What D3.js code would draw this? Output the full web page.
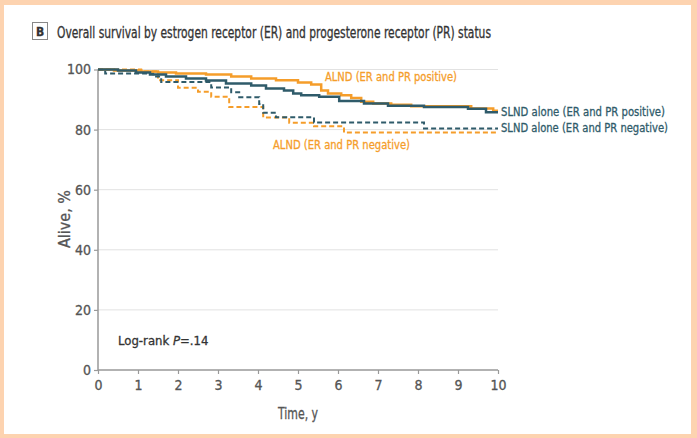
<!DOCTYPE html>
<html>
<head>
<meta charset="utf-8">
<script src="https://cdn.jsdelivr.net/npm/d3@7"></script>
<style>
  body { margin: 0; background: #fdd3b0; }
  svg text { font-family: "Liberation Sans Narrow", "DejaVu Sans Condensed", "Roboto", sans-serif; }
</style>
</head>
<body>
<div id="chart"></div>
<script>
// tick values
var timeTicks = [0, 1, 2, 3, 4, 5, 6, 7, 8, 9, 10];
var aliveTicks = [0, 20, 40, 60, 80, 100];

// KM curves (time in years, alive in %)
var alndPosTime = [0, 0.4, 1.08, 1.5, 1.95, 2.7, 3.33, 3.83, 4.45, 5.0, 5.33, 5.58, 5.75, 6.08, 6.33, 6.58, 6.88, 7.33, 7.83, 9.33, 9.88, 10];
var alndPosAlive = [100, 99.7, 99.3, 99.0, 98.7, 98.3, 97.7, 97.0, 96.4, 95.7, 95.0, 93.0, 92.0, 91.4, 90.5, 89.3, 88.7, 88.3, 87.8, 87.0, 86.3, 86.3];

var slndPosTime = [0, 0.5, 0.95, 1.3, 1.7, 2.2, 2.7, 3.2, 3.83, 4.2, 4.65, 4.88, 5.08, 5.53, 6.03, 6.65, 7.25, 8.15, 9.25, 9.7, 10];
var slndPosAlive = [100, 99.7, 99.0, 98.3, 97.7, 97.0, 96.3, 95.3, 94.7, 93.7, 93.0, 92.0, 91.4, 90.9, 89.5, 88.7, 87.9, 87.5, 86.9, 85.8, 85.8];

var slndNegTime = [0, 0.18, 1.38, 1.58, 2.83, 3.33, 3.53, 4.03, 4.13, 4.45, 5.4, 8.15, 10];
var slndNegAlive = [100, 98.7, 97.7, 95.8, 94.0, 92.4, 90.8, 88.5, 85.6, 84.1, 82.4, 80.4, 80.4];

var alndNegTime = [0, 1.08, 1.5, 2.0, 2.5, 2.83, 3.28, 4.13, 4.78, 5.4, 6.15, 10];
var alndNegAlive = [100, 99.3, 96.4, 93.9, 92.6, 90.9, 87.5, 84.0, 82.3, 81.1, 79.0, 79.0];

var orange = "#f59d2a";
var teal = "#2f5b6a";

var svgWidth = 697;
var svgHeight = 438;

var svg = d3.select("#chart")
  .append("svg")
  .attr("width", svgWidth)
  .attr("height", svgHeight)
  .style("display", "block");

// peach frame + white panel
svg.append("rect").attr("width", svgWidth).attr("height", svgHeight).attr("fill", "#fdd3b0");
svg.append("rect").attr("x", 4).attr("y", 5).attr("width", 687).attr("height", 429).attr("fill", "#fff");

var x = d3.scaleLinear().domain([0, 10]).range([98, 498]);
var y = d3.scaleLinear().domain([0, 100]).range([370, 69.5]);

// text helper, light stroke gives the medium weight of the original
function label(str, px, py, width, opts) {
  opts = opts || {};
  var c = opts.color || "#444";
  var t = svg.append("text")
    .attr("x", px)
    .attr("y", py)
    .attr("font-size", opts.size || 13)
    .attr("fill", c)
    .attr("stroke", c)
    .attr("stroke-width", 0.3)
    .attr("font-weight", opts.weight || "normal")
    .text(str);
  if (width) t.attr("textLength", width).attr("lengthAdjust", "spacingAndGlyphs");
  return t;
}

// title
svg.append("rect").attr("x", 32.5).attr("y", 22.5).attr("width", 15).attr("height", 17)
  .attr("fill", "#fff").attr("stroke", "#888").attr("stroke-width", 1);
label("B", 40, 36, null, {size: 12, weight: "bold", color: "#333"}).attr("text-anchor", "middle");
label("Overall survival by estrogen receptor (ER) and progesterone receptor (PR) status", 57, 38, 434, {size: 15, color: "#333"});

// gridlines
svg.append("g").selectAll("line")
  .data(aliveTicks.filter(d => d > 0))
  .enter()
  .append("line")
  .attr("x1", x(0)).attr("x2", x(10))
  .attr("y1", d => y(d)).attr("y2", d => y(d))
  .attr("stroke", "#e2e2e2").attr("stroke-width", 1);

// axes
var bottomAxis = d3.axisBottom(x).tickValues(timeTicks).tickSize(4).tickPadding(6);
var leftAxis = d3.axisLeft(y).tickValues(aliveTicks).tickSize(4).tickPadding(3);

var gx = svg.append("g").attr("transform", `translate(0, ${y(0)})`).call(bottomAxis);
var gy = svg.append("g").attr("transform", `translate(${x(0)}, 0)`).call(leftAxis);

[gx, gy].forEach(function(g) {
  g.select(".domain").attr("stroke", "#999").attr("stroke-width", 1.5);
  g.selectAll(".tick line").attr("stroke", "#999").attr("stroke-width", 1.2);
  g.selectAll(".tick text").attr("fill", "#555").attr("font-size", 14)
    .attr("stroke", "#555").attr("stroke-width", 0.3)
    .style("font-family", '"Liberation Sans Narrow", "DejaVu Sans Condensed", sans-serif');
});
gx.select(".domain").attr("d", `M${x(0)},0H${x(10)}`);
gy.select(".domain").attr("d", `M0,${y(0)}V${y(100)}`);

// axis titles
label("Time, y", 298, 419, 40, {size: 15, color: "#555"}).attr("text-anchor", "middle");
label("Alive, %", 0, 0, 58, {size: 15, color: "#555"})
  .attr("text-anchor", "middle")
  .attr("transform", "translate(70, 219) rotate(-90)");

// curves
var line = d3.line()
  .x(d => x(d[0]))
  .y(d => y(d[1]))
  .curve(d3.curveStepAfter);

function curve(times, alive, color, dashed, width) {
  svg.append("path")
    .datum(d3.zip(times, alive))
    .attr("d", line)
    .attr("fill", "none")
    .attr("stroke", color)
    .attr("stroke-width", width)
    .attr("stroke-dasharray", dashed ? "5,3" : null);
}

curve(alndNegTime, alndNegAlive, orange, true, 2);
curve(slndNegTime, slndNegAlive, teal, true, 2);
curve(alndPosTime, alndPosAlive, orange, false, 2.5);
curve(slndPosTime, slndPosAlive, teal, false, 2.5);

// curve labels
label("ALND (ER and PR positive)", 325, 81, 132, {color: orange});
label("SLND alone (ER and PR positive)", 501, 115.5, 164, {color: teal});
label("SLND alone (ER and PR negative)", 501, 132, 167, {color: teal});
label("ALND (ER and PR negative)", 273, 149, 137, {color: orange});

// log-rank
var lr = svg.append("text")
  .attr("x", 118).attr("y", 345)
  .attr("font-size", 13).attr("fill", "#333")
  .attr("stroke", "#333").attr("stroke-width", 0.3);
lr.append("tspan").text("Log-rank ");
lr.append("tspan").attr("font-style", "italic").text("P");
lr.append("tspan").text("=.14");
</script>
</body>
</html>
